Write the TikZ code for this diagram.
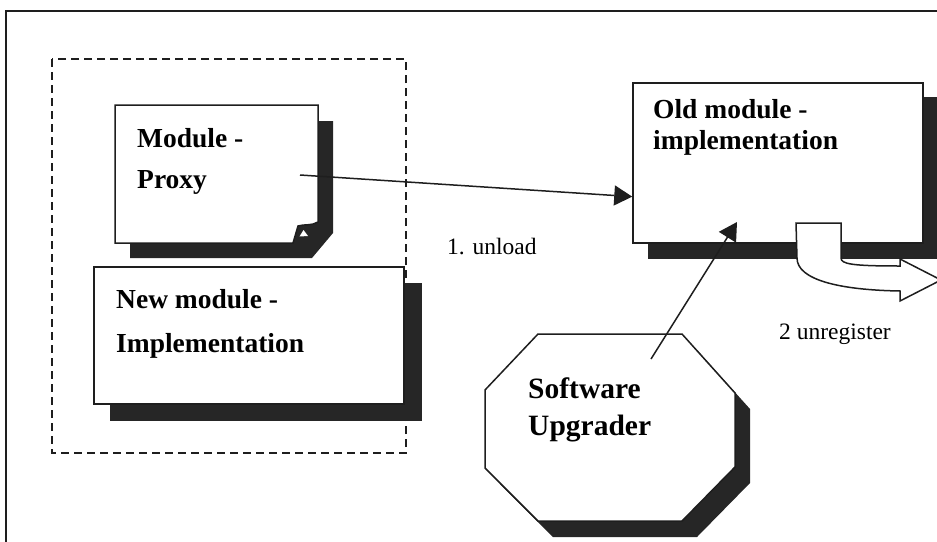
\documentclass[tikz,border=0pt]{standalone}
\usepackage{fontspec}
\setmainfont{Liberation Serif}
\usetikzlibrary{arrows.meta}
\definecolor{ink}{HTML}{1E1E1E}
\definecolor{shade}{HTML}{262626}
\begin{document}
\begin{tikzpicture}[x=1pt,y=-1pt,
  frame/.style={draw=ink,line width=1.6pt},
  boxline/.style={draw=ink,line width=1.5pt,fill=white},
  shadow/.style={fill=shade},
  plainbox/.style={boxline,rectangle,inner sep=0pt},
  label/.style={font=\fontsize{27.5}{30}\selectfont\bfseries,anchor=base west,inner sep=0pt},
  biglabel/.style={label,font=\fontsize{29.5}{32}\selectfont\bfseries},
  note/.style={font=\fontsize{23.5}{26}\selectfont,anchor=base west,inner sep=0pt},
  conn/.style={draw=ink,line width=1.5pt,-{Triangle[length=18pt,width=20pt]}},
  groupline/.style={draw=ink,line width=1.5pt,dash pattern=on 8pt off 5pt},
]
\useasboundingbox (0,0) rectangle (937,541);
\clip (0,0) rectangle (937,541);

% outer frame (open at right and bottom)
\draw[frame] (940,11) -- (6,11) -- (6,545);

% group holding proxy and new implementation
\draw[groupline] (52,59) rectangle (406,453);

% --- Module proxy: page with curled corner and bevelled shadow
\fill[shadow] (130,121) -- (333,121) -- (333,233) -- (312,258) -- (130,258) -- cycle;
\draw[boxline] (115,105) -- (318,105) -- (318,222)
  .. controls (312,226) and (304,224) .. (298,226) -- (293,243) -- (115,243) -- cycle;
\fill[white] (299.5,236.5) -- (303.5,230) -- (308,236) -- cycle;
\node[inner sep=0pt,minimum width=203pt,minimum height=138pt] (proxy) at (216.5,174) {};
\node[label] (proxy-l1) at (137,147) {Module -};
\node[label] (proxy-l2) at (137,188) {Proxy};

% --- New module implementation
\fill[shadow] (110,283) rectangle (422,421);
\node[plainbox,minimum width=310pt,minimum height=137pt] (newmod) at (249,335.5) {};
\node[label] (newmod-l1) at (116,308) {New module -};
\node[label] (newmod-l2) at (116,352) {Implementation};

% --- Old module implementation
\fill[shadow] (648,97) rectangle (945,259);
\node[plainbox,minimum width=290pt,minimum height=160pt] (oldmod) at (778,163) {};
\node[label] (oldmod-l1) at (653,118) {Old module -};
\node[label] (oldmod-l2) at (653,149) {implementation};

% --- Software upgrader (octagon)
\fill[shadow,shift={(15,16)}] (538,334) -- (682,334) -- (735,393) -- (735,467)
  -- (682,521) -- (538,521) -- (485,468) -- (485,390) -- cycle;
\draw[boxline] (538,334) -- (682,334) -- (735,393) -- (735,467)
  -- (682,521) -- (538,521) -- (485,468) -- (485,390) -- cycle;
\node[inner sep=0pt,minimum width=250pt,minimum height=187pt] (upg) at (610,427.5) {};
\node[biglabel] (upg-l1) at (528,398) {Software};
\node[biglabel] (upg-l2) at (528,435) {Upgrader};

% --- connectors
\coordinate (proxy-src) at (300,175);
\draw[conn] (proxy-src) -- (oldmod.193);
\coordinate (upg-src) at (651,359);
\coordinate (old-hit) at (737,222);
\draw[conn] (upg-src) -- (old-hit);

\node[note] (unload) at (447,254) {1. unload};
\node[note] (unreg) at (779,339) {2 unregister};

% bent block arrow leaving the old module
\draw[boxline] (796,223) -- (841,223) -- (841,258)
  .. controls (841,264) and (852,266) .. (900,266) -- (900,259) -- (941,280)
  -- (900,301) -- (900,291) .. controls (840,290) and (797,280) .. (797,258) -- cycle;
\end{tikzpicture}
\end{document}
